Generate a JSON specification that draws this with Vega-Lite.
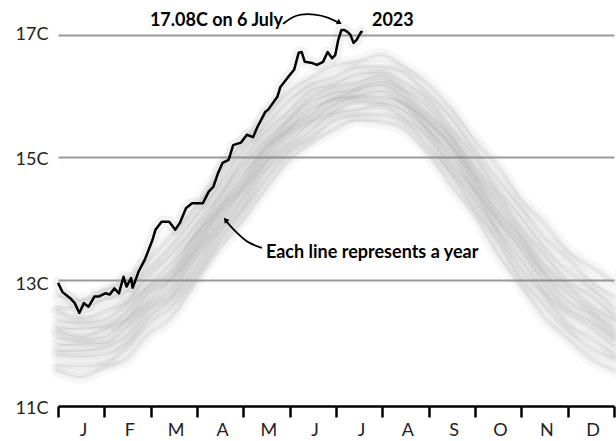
{
"$schema":"https://vega.github.io/schema/vega-lite/v6.json",
"width":556,"height":406,
"autosize":{"type":"none"},
"padding":{"left":58,"top":0,"right":2,"bottom":35},
"background":"white",
"config":{"view":{"stroke":null},"font":"Lato"},
"datasets":{
"years":[
{"y":1979,"d":0,"t":11.52},{"y":1979,"d":15,"t":11.42},{"y":1979,"d":31,"t":11.58},{"y":1979,"d":45,"t":11.71},{"y":1979,"d":59,"t":12.10},{"y":1979,"d":75,"t":12.40},{"y":1979,"d":90,"t":12.96},{"y":1979,"d":105,"t":13.49},{"y":1979,"d":120,"t":13.93},{"y":1979,"d":135,"t":14.44},{"y":1979,"d":151,"t":14.94},{"y":1979,"d":166,"t":15.24},{"y":1979,"d":181,"t":15.45},{"y":1979,"d":196,"t":15.61},{"y":1979,"d":212,"t":15.58},{"y":1979,"d":227,"t":15.46},{"y":1979,"d":243,"t":15.07},{"y":1979,"d":258,"t":14.54},{"y":1979,"d":273,"t":14.09},{"y":1979,"d":289,"t":13.41},{"y":1979,"d":304,"t":12.91},{"y":1979,"d":319,"t":12.39},{"y":1979,"d":334,"t":12.05},{"y":1979,"d":350,"t":11.71},{"y":1979,"d":365,"t":11.53},
{"y":1983,"d":0,"t":11.60},{"y":1983,"d":15,"t":11.59},{"y":1983,"d":31,"t":11.64},{"y":1983,"d":45,"t":11.90},{"y":1983,"d":59,"t":12.28},{"y":1983,"d":75,"t":12.57},{"y":1983,"d":90,"t":13.05},{"y":1983,"d":105,"t":13.61},{"y":1983,"d":120,"t":14.08},{"y":1983,"d":135,"t":14.59},{"y":1983,"d":151,"t":15.07},{"y":1983,"d":166,"t":15.32},{"y":1983,"d":181,"t":15.60},{"y":1983,"d":196,"t":15.69},{"y":1983,"d":212,"t":15.70},{"y":1983,"d":227,"t":15.59},{"y":1983,"d":243,"t":15.17},{"y":1983,"d":258,"t":14.73},{"y":1983,"d":273,"t":14.18},{"y":1983,"d":289,"t":13.62},{"y":1983,"d":304,"t":13.02},{"y":1983,"d":319,"t":12.59},{"y":1983,"d":334,"t":12.21},{"y":1983,"d":350,"t":11.88},{"y":1983,"d":365,"t":11.72},
{"y":1987,"d":0,"t":11.77},{"y":1987,"d":15,"t":11.75},{"y":1987,"d":31,"t":11.79},{"y":1987,"d":45,"t":11.97},{"y":1987,"d":59,"t":12.38},{"y":1987,"d":75,"t":12.70},{"y":1987,"d":90,"t":13.18},{"y":1987,"d":105,"t":13.74},{"y":1987,"d":120,"t":14.16},{"y":1987,"d":135,"t":14.74},{"y":1987,"d":151,"t":15.15},{"y":1987,"d":166,"t":15.43},{"y":1987,"d":181,"t":15.71},{"y":1987,"d":196,"t":15.77},{"y":1987,"d":212,"t":15.85},{"y":1987,"d":227,"t":15.64},{"y":1987,"d":243,"t":15.33},{"y":1987,"d":258,"t":14.79},{"y":1987,"d":273,"t":14.33},{"y":1987,"d":289,"t":13.74},{"y":1987,"d":304,"t":13.17},{"y":1987,"d":319,"t":12.76},{"y":1987,"d":334,"t":12.29},{"y":1987,"d":350,"t":12.05},{"y":1987,"d":365,"t":11.77},
{"y":1991,"d":0,"t":11.83},{"y":1991,"d":15,"t":11.84},{"y":1991,"d":31,"t":11.91},{"y":1991,"d":45,"t":12.09},{"y":1991,"d":59,"t":12.50},{"y":1991,"d":75,"t":12.77},{"y":1991,"d":90,"t":13.33},{"y":1991,"d":105,"t":13.82},{"y":1991,"d":120,"t":14.28},{"y":1991,"d":135,"t":14.85},{"y":1991,"d":151,"t":15.23},{"y":1991,"d":166,"t":15.57},{"y":1991,"d":181,"t":15.75},{"y":1991,"d":196,"t":15.91},{"y":1991,"d":212,"t":15.89},{"y":1991,"d":227,"t":15.76},{"y":1991,"d":243,"t":15.42},{"y":1991,"d":258,"t":14.90},{"y":1991,"d":273,"t":14.47},{"y":1991,"d":289,"t":13.80},{"y":1991,"d":304,"t":13.33},{"y":1991,"d":319,"t":12.81},{"y":1991,"d":334,"t":12.47},{"y":1991,"d":350,"t":12.22},{"y":1991,"d":365,"t":11.92},
{"y":1995,"d":0,"t":11.94},{"y":1995,"d":15,"t":11.95},{"y":1995,"d":31,"t":11.97},{"y":1995,"d":45,"t":12.23},{"y":1995,"d":59,"t":12.57},{"y":1995,"d":75,"t":12.88},{"y":1995,"d":90,"t":13.44},{"y":1995,"d":105,"t":13.90},{"y":1995,"d":120,"t":14.43},{"y":1995,"d":135,"t":14.90},{"y":1995,"d":151,"t":15.37},{"y":1995,"d":166,"t":15.61},{"y":1995,"d":181,"t":15.86},{"y":1995,"d":196,"t":15.98},{"y":1995,"d":212,"t":15.98},{"y":1995,"d":227,"t":15.88},{"y":1995,"d":243,"t":15.45},{"y":1995,"d":258,"t":15.03},{"y":1995,"d":273,"t":14.49},{"y":1995,"d":289,"t":13.96},{"y":1995,"d":304,"t":13.48},{"y":1995,"d":319,"t":12.96},{"y":1995,"d":334,"t":12.54},{"y":1995,"d":350,"t":12.31},{"y":1995,"d":365,"t":12.04},
{"y":1999,"d":0,"t":12.07},{"y":1999,"d":15,"t":12.01},{"y":1999,"d":31,"t":12.07},{"y":1999,"d":45,"t":12.33},{"y":1999,"d":59,"t":12.64},{"y":1999,"d":75,"t":13.02},{"y":1999,"d":90,"t":13.48},{"y":1999,"d":105,"t":14.04},{"y":1999,"d":120,"t":14.47},{"y":1999,"d":135,"t":15.02},{"y":1999,"d":151,"t":15.44},{"y":1999,"d":166,"t":15.70},{"y":1999,"d":181,"t":15.96},{"y":1999,"d":196,"t":15.99},{"y":1999,"d":212,"t":16.08},{"y":1999,"d":227,"t":15.88},{"y":1999,"d":243,"t":15.58},{"y":1999,"d":258,"t":15.16},{"y":1999,"d":273,"t":14.61},{"y":1999,"d":289,"t":14.01},{"y":1999,"d":304,"t":13.57},{"y":1999,"d":319,"t":13.08},{"y":1999,"d":334,"t":12.66},{"y":1999,"d":350,"t":12.43},{"y":1999,"d":365,"t":12.10},
{"y":2003,"d":0,"t":12.16},{"y":2003,"d":15,"t":12.07},{"y":2003,"d":31,"t":12.20},{"y":2003,"d":45,"t":12.36},{"y":2003,"d":59,"t":12.77},{"y":2003,"d":75,"t":13.05},{"y":2003,"d":90,"t":13.59},{"y":2003,"d":105,"t":14.11},{"y":2003,"d":120,"t":14.56},{"y":2003,"d":135,"t":15.12},{"y":2003,"d":151,"t":15.45},{"y":2003,"d":166,"t":15.79},{"y":2003,"d":181,"t":15.94},{"y":2003,"d":196,"t":16.10},{"y":2003,"d":212,"t":16.18},{"y":2003,"d":227,"t":15.97},{"y":2003,"d":243,"t":15.60},{"y":2003,"d":258,"t":15.21},{"y":2003,"d":273,"t":14.70},{"y":2003,"d":289,"t":14.11},{"y":2003,"d":304,"t":13.67},{"y":2003,"d":319,"t":13.14},{"y":2003,"d":334,"t":12.80},{"y":2003,"d":350,"t":12.49},{"y":2003,"d":365,"t":12.20},
{"y":2007,"d":0,"t":12.20},{"y":2007,"d":15,"t":12.21},{"y":2007,"d":31,"t":12.24},{"y":2007,"d":45,"t":12.48},{"y":2007,"d":59,"t":12.85},{"y":2007,"d":75,"t":13.15},{"y":2007,"d":90,"t":13.71},{"y":2007,"d":105,"t":14.14},{"y":2007,"d":120,"t":14.68},{"y":2007,"d":135,"t":15.13},{"y":2007,"d":151,"t":15.58},{"y":2007,"d":166,"t":15.91},{"y":2007,"d":181,"t":16.05},{"y":2007,"d":196,"t":16.13},{"y":2007,"d":212,"t":16.24},{"y":2007,"d":227,"t":16.06},{"y":2007,"d":243,"t":15.69},{"y":2007,"d":258,"t":15.31},{"y":2007,"d":273,"t":14.75},{"y":2007,"d":289,"t":14.25},{"y":2007,"d":304,"t":13.74},{"y":2007,"d":319,"t":13.25},{"y":2007,"d":334,"t":12.91},{"y":2007,"d":350,"t":12.57},{"y":2007,"d":365,"t":12.35},
{"y":2011,"d":0,"t":12.33},{"y":2011,"d":15,"t":12.30},{"y":2011,"d":31,"t":12.35},{"y":2011,"d":45,"t":12.61},{"y":2011,"d":59,"t":12.89},{"y":2011,"d":75,"t":13.28},{"y":2011,"d":90,"t":13.73},{"y":2011,"d":105,"t":14.29},{"y":2011,"d":120,"t":14.82},{"y":2011,"d":135,"t":15.25},{"y":2011,"d":151,"t":15.62},{"y":2011,"d":166,"t":15.98},{"y":2011,"d":181,"t":16.14},{"y":2011,"d":196,"t":16.22},{"y":2011,"d":212,"t":16.33},{"y":2011,"d":227,"t":16.11},{"y":2011,"d":243,"t":15.82},{"y":2011,"d":258,"t":15.37},{"y":2011,"d":273,"t":14.86},{"y":2011,"d":289,"t":14.37},{"y":2011,"d":304,"t":13.84},{"y":2011,"d":319,"t":13.42},{"y":2011,"d":334,"t":12.98},{"y":2011,"d":350,"t":12.74},{"y":2011,"d":365,"t":12.41},
{"y":2015,"d":0,"t":12.48},{"y":2015,"d":15,"t":12.36},{"y":2015,"d":31,"t":12.50},{"y":2015,"d":45,"t":12.65},{"y":2015,"d":59,"t":13.06},{"y":2015,"d":75,"t":13.44},{"y":2015,"d":90,"t":13.88},{"y":2015,"d":105,"t":14.36},{"y":2015,"d":120,"t":14.92},{"y":2015,"d":135,"t":15.38},{"y":2015,"d":151,"t":15.74},{"y":2015,"d":166,"t":16.09},{"y":2015,"d":181,"t":16.19},{"y":2015,"d":196,"t":16.35},{"y":2015,"d":212,"t":16.39},{"y":2015,"d":227,"t":16.22},{"y":2015,"d":243,"t":15.94},{"y":2015,"d":258,"t":15.47},{"y":2015,"d":273,"t":15.03},{"y":2015,"d":289,"t":14.45},{"y":2015,"d":304,"t":14.02},{"y":2015,"d":319,"t":13.52},{"y":2015,"d":334,"t":13.16},{"y":2015,"d":350,"t":12.86},{"y":2015,"d":365,"t":12.55},
{"y":2019,"d":0,"t":12.54},{"y":2019,"d":15,"t":12.55},{"y":2019,"d":31,"t":12.68},{"y":2019,"d":45,"t":12.82},{"y":2019,"d":59,"t":13.15},{"y":2019,"d":75,"t":13.56},{"y":2019,"d":90,"t":14.03},{"y":2019,"d":105,"t":14.51},{"y":2019,"d":120,"t":15.07},{"y":2019,"d":135,"t":15.47},{"y":2019,"d":151,"t":15.91},{"y":2019,"d":166,"t":16.18},{"y":2019,"d":181,"t":16.31},{"y":2019,"d":196,"t":16.47},{"y":2019,"d":212,"t":16.48},{"y":2019,"d":227,"t":16.39},{"y":2019,"d":243,"t":16.02},{"y":2019,"d":258,"t":15.65},{"y":2019,"d":273,"t":15.12},{"y":2019,"d":289,"t":14.63},{"y":2019,"d":304,"t":14.18},{"y":2019,"d":319,"t":13.70},{"y":2019,"d":334,"t":13.36},{"y":2019,"d":350,"t":12.97},{"y":2019,"d":365,"t":12.73},
{"y":2022,"d":0,"t":12.74},{"y":2022,"d":15,"t":12.67},{"y":2022,"d":31,"t":12.83},{"y":2022,"d":45,"t":13.00},{"y":2022,"d":59,"t":13.33},{"y":2022,"d":75,"t":13.74},{"y":2022,"d":90,"t":14.16},{"y":2022,"d":105,"t":14.72},{"y":2022,"d":120,"t":15.21},{"y":2022,"d":135,"t":15.64},{"y":2022,"d":151,"t":16.07},{"y":2022,"d":166,"t":16.30},{"y":2022,"d":181,"t":16.50},{"y":2022,"d":196,"t":16.56},{"y":2022,"d":212,"t":16.67},{"y":2022,"d":227,"t":16.48},{"y":2022,"d":243,"t":16.20},{"y":2022,"d":258,"t":15.80},{"y":2022,"d":273,"t":15.30},{"y":2022,"d":289,"t":14.85},{"y":2022,"d":304,"t":14.31},{"y":2022,"d":319,"t":13.93},{"y":2022,"d":334,"t":13.48},{"y":2022,"d":350,"t":13.21},{"y":2022,"d":365,"t":12.96}
],
"y2023":[
{"d":0,"t":12.95},{"d":3,"t":12.80},{"d":6,"t":12.74},{"d":8,"t":12.70},{"d":11,"t":12.62},{"d":14,"t":12.46},{"d":17,"t":12.62},{"d":20,"t":12.56},{"d":24,"t":12.73},{"d":27,"t":12.73},{"d":31,"t":12.78},{"d":34,"t":12.76},{"d":37,"t":12.86},{"d":40,"t":12.78},{"d":43,"t":13.05},{"d":45,"t":12.89},{"d":48,"t":13.03},{"d":49,"t":12.87},{"d":53,"t":13.14},{"d":57,"t":13.33},{"d":62,"t":13.65},{"d":64,"t":13.82},{"d":68,"t":13.95},{"d":73,"t":13.95},{"d":77,"t":13.82},{"d":80,"t":13.93},{"d":84,"t":14.17},{"d":88,"t":14.25},{"d":95,"t":14.25},{"d":99,"t":14.44},{"d":102,"t":14.52},{"d":105,"t":14.74},{"d":108,"t":14.91},{"d":112,"t":14.96},{"d":115,"t":15.20},{"d":120,"t":15.24},{"d":124,"t":15.37},{"d":128,"t":15.33},{"d":131,"t":15.50},{"d":136,"t":15.74},{"d":138,"t":15.78},{"d":144,"t":15.99},{"d":146,"t":16.15},{"d":151,"t":16.31},{"d":155,"t":16.43},{"d":158,"t":16.71},{"d":160,"t":16.72},{"d":162,"t":16.56},{"d":167,"t":16.54},{"d":170,"t":16.51},{"d":174,"t":16.56},{"d":177,"t":16.72},{"d":180,"t":16.62},{"d":182,"t":16.67},{"d":184,"t":16.92},{"d":186,"t":17.08},{"d":188,"t":17.08},{"d":190,"t":17.05},{"d":192,"t":17.00},{"d":194,"t":16.87},{"d":196,"t":16.92},{"d":199,"t":17.05},{"d":200,"t":17.04}
],
"arrows":[
{"a":"peak","i":0,"d":147.7,"t":17.18},{"a":"peak","i":1,"d":153.6,"t":17.29},{"a":"peak","i":2,"d":158.9,"t":17.34},{"a":"peak","i":3,"d":168.7,"t":17.34},{"a":"peak","i":4,"d":177.2,"t":17.29},{"a":"peak","i":5,"d":185.1,"t":17.19},
{"a":"year","i":0,"d":133.9,"t":13.52},{"a":"year","i":1,"d":124.7,"t":13.60},{"a":"year","i":2,"d":118.2,"t":13.75},{"a":"year","i":3,"d":112.9,"t":13.88},{"a":"year","i":4,"d":109.6,"t":13.99}
]
},
"encoding":{
"x":{"field":"d","type":"quantitative","scale":{"domain":[0,365],"nice":false,"zero":false},
"axis":{"values":[0,30.4167,60.8333,91.25,121.6667,152.0833,182.5,212.9167,243.3333,273.75,304.1667,334.5833,365],
"labelExpr":"['J','F','M','A','M','J','J','A','S','O','N','D',''][round(datum.value*12/365)]",
"title":null,"grid":false,"domainColor":"#000","domainWidth":2.5,"tickColor":"#000","tickWidth":2.5,"tickSize":11,
"labelFont":"Lato","labelFontSize":18,"labelColor":"#222","labelOffset":25,"labelPadding":4,"labelFlush":false,"labelOverlap":false,"labelAlign":"center","labelBaseline":"top"}},
"y":{"field":"t","type":"quantitative","scale":{"domain":[10.94,17.57],"nice":false,"zero":false},
"axis":{"values":[11,13,15,17],"labelExpr":"datum.value + 'C'","title":null,"domain":false,"ticks":false,"grid":true,
"gridColor":{"condition":{"test":"datum.value === 11","value":"transparent"},"value":"#999"},"gridWidth":2,
"labelFont":"Lato","labelFontSize":18,"labelColor":"#222","labelPadding":10,"labelBaseline":"middle",
"labelOffset":{"condition":[{"test":"datum.value === 11","value":6},{"test":"datum.value === 13","value":5},{"test":"datum.value === 15","value":2.5}],"value":0}}}
},
"layer":[
{"data":{"name":"years"},"mark":{"type":"line","stroke":"#888","strokeWidth":14,"opacity":0.07,"interpolate":"monotone","strokeCap":"round"},"encoding":{"detail":{"field":"y","type":"nominal"}}},
{"data":{"name":"years"},"mark":{"type":"line","stroke":"#888","strokeWidth":6,"opacity":0.09,"interpolate":"monotone","strokeCap":"round"},"encoding":{"detail":{"field":"y","type":"nominal"}}},
{"data":{"name":"years"},"mark":{"type":"line","stroke":"#777","strokeWidth":0.8,"opacity":0.22,"interpolate":"monotone"},"encoding":{"detail":{"field":"y","type":"nominal"}}},
{"data":{"name":"y2023"},"mark":{"type":"line","stroke":"#999","strokeWidth":12,"opacity":0.12,"strokeJoin":"round","strokeCap":"round"}},
{"data":{"name":"y2023"},"mark":{"type":"line","stroke":"#000","strokeWidth":2.5,"strokeJoin":"round"}},
{"data":{"name":"arrows"},"mark":{"type":"line","stroke":"#000","strokeWidth":1.8,"interpolate":"basis"},"encoding":{"detail":{"field":"a","type":"nominal"},"order":{"field":"i","type":"quantitative"}}},
{"data":{"values":[{"d":184.8,"t":17.2}]},"mark":{"type":"point","shape":"triangle-right","filled":true,"color":"#000","size":35,"angle":27,"opacity":1}},
{"data":{"values":[{"d":110.0,"t":13.98}]},"mark":{"type":"point","shape":"triangle-right","filled":true,"color":"#000","size":35,"angle":233,"opacity":1}},
{"data":{"values":[{"d":147.7,"t":17.23,"txt":"17.08C on 6 July"}]},"mark":{"type":"text","align":"right","baseline":"middle","font":"Lato","fontWeight":"bold","fontSize":18,"color":"#000"},"encoding":{"text":{"field":"txt"}}},
{"data":{"values":[{"d":206.1,"t":17.23,"txt":"2023"},{"d":136.5,"t":13.44,"txt":"Each line represents a year"}]},"mark":{"type":"text","align":"left","baseline":"middle","font":"Lato","fontWeight":"bold","fontSize":18,"color":"#000"},"encoding":{"text":{"field":"txt"}}}
]
}
